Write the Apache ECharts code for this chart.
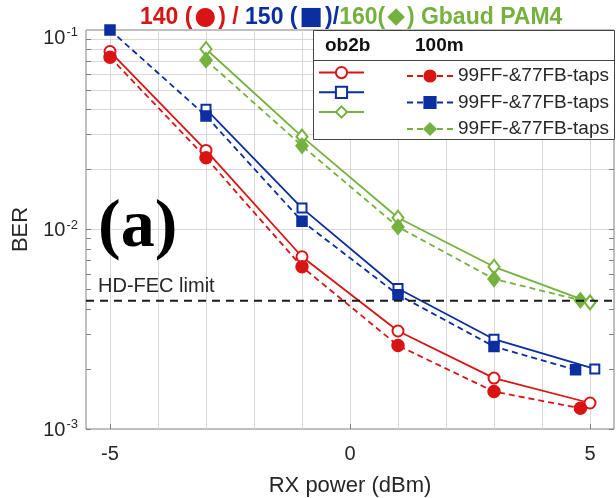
<!DOCTYPE html>
<html>
<head>
<meta charset="utf-8">
<script src="https://cdn.jsdelivr.net/npm/echarts@6/dist/echarts.min.js"></script>
<style>html,body{margin:0;padding:0;background:#fff}#c{width:616px;height:498px}</style>
</head>
<body>
<div id="c"></div>
<script>
// ---- data ----
const rx140_ob2b = [-5, -3, -1, 1, 3, 5];
const ber140_ob2b = [0.078, 0.0249, 0.0073, 0.0031, 0.0018, 0.00135];
const rx140_100m = [-5, -3, -1, 1, 3, 4.8];
const ber140_100m = [0.073, 0.0229, 0.0065, 0.00262, 0.00154, 0.00127];
const rx150_ob2b = [-3, -1, 1, 3, 5.1];
const ber150_ob2b = [0.0401, 0.0128, 0.00506, 0.00282, 0.0020];
const rx150_100m = [-5, -3, -1, 1, 3, 4.7];
const ber150_100m = [0.1, 0.0371, 0.0110, 0.00471, 0.00259, 0.00198];
const rx160_ob2b = [-3, -1, 1, 3, 5];
const ber160_ob2b = [0.0803, 0.0292, 0.01146, 0.0065, 0.00431];
const rx160_100m = [-3, -1, 1, 3, 4.8];
const ber160_100m = [0.0706, 0.0263, 0.0103, 0.00565, 0.00442];
const hdFecLimit = 0.0044;
const xRange = [-5.5, 5.5];
const xTickLabels = [-5, 0, 5];
const xGrid = [-5, -4, -3, -2, -1, 0, 1, 2, 3, 4, 5];
const yGrid = [0.002, 0.003, 0.004, 0.005, 0.006, 0.007, 0.008, 0.009, 0.01,
               0.02, 0.03, 0.04, 0.05, 0.06, 0.07, 0.08, 0.09];
const yTicks = [0.001, 0.002, 0.003, 0.004, 0.005, 0.006, 0.007, 0.008, 0.009, 0.01,
                0.02, 0.03, 0.04, 0.05, 0.06, 0.07, 0.08, 0.09, 0.1];
const legendLabel = '99FF-&77FB-taps';

// ---- styles ----
const RED = '#d91414', BLUE = '#0b2ea0', GREEN = '#74b13e';
const FONT = '"Liberation Sans", Arial, sans-serif';
const TXT = '#262626';

const zip = (xs, ys) => xs.map((x, i) => [x, ys[i]]);

function mk(name, color, symbol, size, dashed, xs, ys) {
  return {
    name, type: 'line', data: zip(xs, ys), symbol, symbolSize: size,
    clip: false, z: 2,
    lineStyle: { color, width: 1.8, type: dashed ? [6, 4] : 'solid' },
    itemStyle: { color, borderColor: color, borderWidth: 1.5 },
    emphasis: { disabled: true }, animation: false
  };
}

const series = [
  {
    name: 'grid', type: 'line', data: [], z: 0, silent: true, animation: false,
    markLine: {
      z: 0, silent: true, symbol: ['none', 'none'], animation: false,
      label: { show: false },
      lineStyle: { color: '#d9d9d9', width: 1, type: 'solid' },
      data: xGrid.map(v => ({ xAxis: v })).concat(yGrid.map(v => ({ yAxis: v })))
    }
  },
  {
    name: 'HD-FEC limit', type: 'line', z: 3, silent: true, animation: false,
    data: zip(xRange, xRange.map(() => hdFecLimit)),
    symbol: 'none', clip: true,
    lineStyle: { color: '#1a1a1a', width: 2, type: [8, 6] },
    emphasis: { disabled: true }
  },
  mk('140 ob2b', RED, 'emptyCircle', 11, false, rx140_ob2b, ber140_ob2b),
  mk('150 ob2b', BLUE, 'emptyRect', 9, false, rx150_ob2b, ber150_ob2b),
  mk('160 ob2b', GREEN, 'emptyDiamond', [11, 14], false, rx160_ob2b, ber160_ob2b),
  mk('140 100m', RED, 'circle', 12, true, rx140_100m, ber140_100m),
  mk('150 100m', BLUE, 'rect', 10, true, rx150_100m, ber150_100m),
  mk('160 100m', GREEN, 'diamond', [12, 15], true, rx160_100m, ber160_100m)
];

const chart = echarts.init(document.getElementById('c'), null, { renderer: 'canvas' });
chart.setOption({
  animation: false,
  backgroundColor: '#fff',
  title: {
    left: 140, top: 5, padding: 0,
    text: '{r|140 (}{rg|\u25CF}{r|) / }{b|150 (}{bg|\u25A0}{b|)/}{g|160(}{gg|\u25C6}{g|) Gbaud PAM4}',
    textStyle: {
      fontFamily: FONT, fontSize: 23, fontWeight: 'bold',
      rich: {
        r: { color: RED, fontFamily: FONT, fontSize: 23, fontWeight: 'bold' },
        b: { color: BLUE, fontFamily: FONT, fontSize: 23, fontWeight: 'bold' },
        g: { color: GREEN, fontFamily: FONT, fontSize: 23, fontWeight: 'bold' },
        rg: { color: RED, fontFamily: '"DejaVu Sans"', fontSize: 25, padding: [0, 2, 0, 2] },
        bg: { color: BLUE, fontFamily: '"DejaVu Sans"', fontSize: 25, padding: [0, 2, 0, 2] },
        gg: { color: GREEN, fontFamily: '"DejaVu Sans"', fontSize: 23, padding: [0, 2, 0, 2] }
      }
    }
  },
  grid: { left: 86, right: 2, top: 30, bottom: 69, show: true, borderColor: '#808080', borderWidth: 1,
          containLabel: false, outerBoundsMode: 'none' },
  xAxis: [{
    type: 'value', min: -5.5, max: 5.5, interval: 0.5,
    name: 'RX power (dBm)', nameLocation: 'middle', nameGap: 46,
    nameTextStyle: { fontFamily: FONT, fontSize: 22, color: TXT },
    axisLine: { show: false, onZero: false },
    axisTick: { show: true, inside: true, length: 5, customValues: xTickLabels, lineStyle: { color: '#808080' } },
    axisLabel: { customValues: xTickLabels, fontFamily: FONT, fontSize: 20, color: TXT, margin: 15 },
    splitLine: { show: false }
  }, {
    type: 'value', min: -5.5, max: 5.5, interval: 0.5, position: 'top',
    axisLine: { show: false, onZero: false },
    axisTick: { show: true, inside: true, length: 5, customValues: xTickLabels, lineStyle: { color: '#808080' } },
    axisLabel: { show: false }, splitLine: { show: false }
  }],
  yAxis: [{
    type: 'log', logBase: 10, min: 0.001, max: 0.1,
    name: 'BER', nameLocation: 'middle', nameGap: 46,
    nameTextStyle: { fontFamily: FONT, fontSize: 22, color: TXT },
    axisLine: { show: false, onZero: false },
    axisTick: { show: true, inside: true, length: 5, customValues: yTicks, lineStyle: { color: '#808080' } },
    axisLabel: {
      margin: 8, color: TXT,
      formatter: v => {
        const e = Math.round(Math.log10(v));
        return e === -1 ? '{bt|10}{s|' + e + '}' : '{b|10}{s|' + e + '}';
      },
      rich: {
        b: { fontFamily: FONT, fontSize: 20, color: TXT, verticalAlign: 'bottom' },
        bt: { fontFamily: FONT, fontSize: 20, color: TXT, verticalAlign: 'bottom', padding: [16, 0, 0, 0] },
        s: { fontFamily: FONT, fontSize: 13, color: TXT, verticalAlign: 'bottom', padding: [0, 0, 9, 1] }
      }
    },
    splitLine: { show: false }, minorSplitLine: { show: false }
  }, {
    type: 'log', logBase: 10, min: 0.001, max: 0.1, position: 'right',
    axisLine: { show: false, onZero: false },
    axisTick: { show: true, inside: true, length: 5, customValues: yTicks, lineStyle: { color: '#808080' } },
    axisLabel: { show: false }, splitLine: { show: false }
  }],
  legend: [{
    z: 8, orient: 'vertical', left: 318, top: 66, padding: 0, itemGap: 6.5,
    itemWidth: 45, itemHeight: 14, selectedMode: false,
    data: ['140 ob2b', '150 ob2b', '160 ob2b'],
    formatter: () => '',
    textStyle: { fontFamily: FONT, fontSize: 19, lineHeight: 20, color: TXT }
  }, {
    z: 8, orient: 'vertical', left: 406, top: 66, padding: 0, itemGap: 6.5,
    itemWidth: 46, itemHeight: 14, selectedMode: false,
    data: ['140 100m', '150 100m', '160 100m'],
    formatter: () => legendLabel,
    textStyle: { fontFamily: FONT, fontSize: 19, lineHeight: 20, color: TXT }
  }],
  graphic: [
    { type: 'rect', z: 6, silent: true,
      shape: { x: 313.5, y: 30.5, width: 301, height: 109 },
      style: { fill: '#fff', stroke: '#444', lineWidth: 1 } },
    { type: 'line', z: 7, silent: true,
      shape: { x1: 313.5, y1: 60.5, x2: 614.5, y2: 60.5 },
      style: { stroke: '#444', lineWidth: 1 } },
    { type: 'text', z: 9, silent: true, x: 325, y: 46,
      style: { text: 'ob2b', font: 'bold 19px ' + FONT, fill: '#111', textVerticalAlign: 'middle' } },
    { type: 'text', z: 9, silent: true, x: 415, y: 46,
      style: { text: '100m', font: 'bold 19px ' + FONT, fill: '#111', textVerticalAlign: 'middle' } },
    { type: 'text', z: 9, silent: true, x: 98, y: 286,
      style: { text: 'HD-FEC limit', font: '20px ' + FONT, fill: TXT, textVerticalAlign: 'middle' } },
    { type: 'text', z: 9, silent: true, x: 98, y: 228,
      style: { text: '(a)', font: 'bold 68px "Liberation Serif", "Times New Roman", serif', fill: '#000', textVerticalAlign: 'middle' } }
  ],
  series
});
</script>
</body>
</html>
